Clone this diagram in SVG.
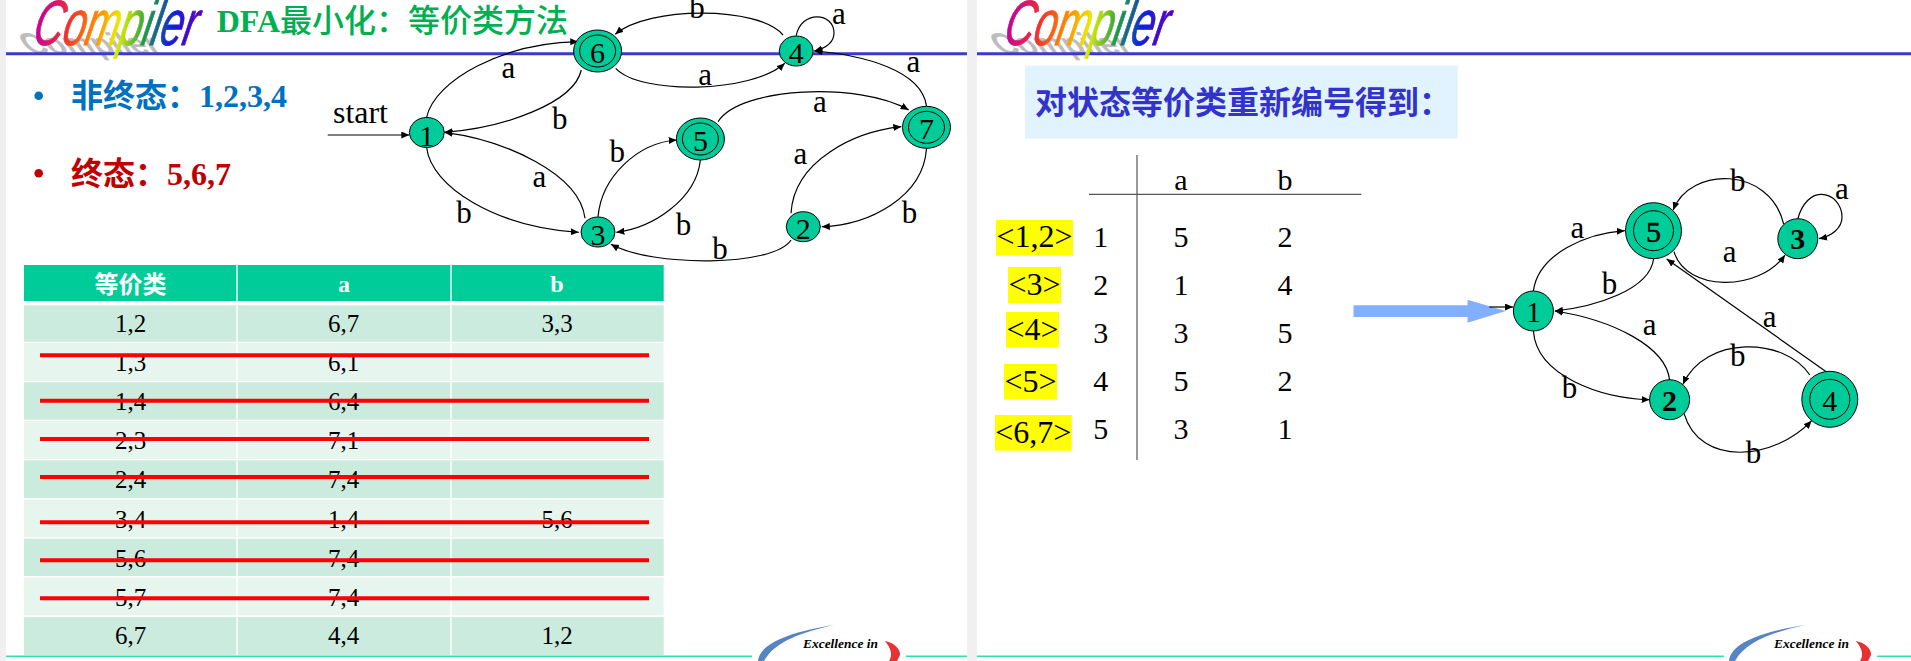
<svg xmlns="http://www.w3.org/2000/svg" width="1911" height="661" viewBox="0 0 1911 661">
<style>
text{font-family:"Liberation Serif","Noto Sans CJK SC",serif;fill:#000}
.lb{font-size:31px;text-anchor:middle}
.dg{font-size:30px;text-anchor:middle}
.nd{fill:#00CC99;stroke:#000;stroke-width:1}
.in{fill:none;stroke:#000;stroke-width:1}
.e{fill:none;stroke:#000;stroke-width:1.2;marker-end:url(#ah)}
.cell{font-size:25px;text-anchor:middle}
.hd{font-size:24px;text-anchor:middle;font-weight:bold;fill:#fff}
.dk{fill:#CCEBDF}.lt{fill:#E7F5EF}.hc{fill:#00CC99}
.st{stroke:#FF0000;stroke-width:4}
.rule{stroke:#3A3ACC;stroke-width:3}
.foot{stroke:#33DDB0;stroke-width:1.5}
.yl{fill:#FFFF00}
.lab{font-size:32px;text-anchor:middle}
.num{font-size:30px;text-anchor:middle}
.ln{stroke:#555;stroke-width:1.2}
.logo{font-family:"Liberation Sans",sans-serif;font-style:italic;font-size:64px;fill:url(#rb)}
.shadow{font-family:"Liberation Sans",sans-serif;font-style:italic;font-weight:bold;font-size:60px;fill:#BDBDBD}
.exc{font-size:13px;font-style:italic;font-weight:bold}
</style>
<defs>
<marker id="ah" markerUnits="userSpaceOnUse" markerWidth="9" markerHeight="8" refX="8" refY="3.5" orient="auto"><path d="M0 0L8 3.5L0 7Z" fill="#000"/></marker>
<linearGradient id="rb" gradientUnits="userSpaceOnUse" x1="0" y1="0" x2="163" y2="0">
<stop offset="0" stop-color="#C000A0"/><stop offset=".2" stop-color="#F03030"/><stop offset=".38" stop-color="#FF9000"/><stop offset=".52" stop-color="#E8F000"/><stop offset=".68" stop-color="#20A040"/><stop offset=".84" stop-color="#1020E0"/><stop offset="1" stop-color="#6000C0"/>
</linearGradient>
</defs>
<rect width="1911" height="661" fill="#fff"/>
<rect x="0" y="0" width="6" height="661" fill="#F0F0F0"/>
<rect x="967" y="0" width="10" height="661" fill="#F0F0F0"/>

<g id="chrome">
<text class="shadow" transform="translate(31,54) skewX(42) scale(1,.5)" textLength="135" lengthAdjust="spacingAndGlyphs">Compiler</text>
<text class="shadow" transform="translate(1002,54) skewX(42) scale(1,.5)" textLength="135" lengthAdjust="spacingAndGlyphs">Compiler</text>
<line class="rule" x1="6" y1="53.7" x2="967" y2="53.7"/>
<line class="rule" x1="977" y1="53.7" x2="1911" y2="53.7"/>
<text class="logo" transform="translate(31,45) skewX(-12)" textLength="163" lengthAdjust="spacingAndGlyphs" stroke="url(#rb)" stroke-width=".8">Compiler</text>
<text class="logo" transform="translate(1002,45) skewX(-12)" textLength="163" lengthAdjust="spacingAndGlyphs" stroke="url(#rb)" stroke-width=".8">Compiler</text>
<line class="foot" x1="6" y1="656.3" x2="752" y2="656.3"/>
<line class="foot" x1="906" y1="656.3" x2="967" y2="656.3"/>
<line class="foot" x1="977" y1="656.3" x2="1724" y2="656.3"/>
<line class="foot" x1="1877" y1="656.3" x2="1911" y2="656.3"/>
<path d="M758 661C760 643 790 632 834 625C803 632 775 641 764 661Z" fill="#5585C5"/>
<path d="M1729 661C1731 643 1761 632 1805 625C1774 632 1746 641 1735 661Z" fill="#5585C5"/>
<path d="M884.700 641C893 642 901 649 900 655L897 661L889 661C893 655 891 648 884.700 641Z" fill="#E53333"/>
<path d="M1855.700 641C1864 642 1872 649 1871 655L1868 661L1860 661C1864 655 1862 648 1855.700 641Z" fill="#E53333"/>
<text class="exc" x="803" y="648" textLength="75" lengthAdjust="spacingAndGlyphs">Excellence in</text>
<text class="exc" x="1774" y="648" textLength="75" lengthAdjust="spacingAndGlyphs">Excellence in</text>
</g>

<text x="216.700" y="32.300" font-size="32" font-weight="500" style="fill:#00B050"><tspan font-weight="bold">DFA</tspan>最小化&#xFF1A;等价类方法</text>
<circle cx="38.700" cy="95.700" r="4.300" fill="#0070C0"/>
<text x="71" y="107.300" font-size="32" style="fill:#0070C0" font-weight="bold">非终态&#xFF1A;1,2,3,4</text>
<circle cx="38.700" cy="173.300" r="4.300" fill="#C00000"/>
<text x="71" y="185" font-size="32" style="fill:#C00000" font-weight="bold">终态&#xFF1A;5,6,7</text>

<g id="connectors-left">
<path class="e" d="M327.700 135H409.300"/>
<path class="e" d="M426.600 117.300C435 80 503 43 578.300 41.700"/>
<path class="e" d="M581.300 70C574 103 504 128 444.400 132.300"/>
<path class="e" d="M585 218.300C579.500 173 504 140 444.400 132.300"/>
<path class="e" d="M426.600 147.300C431 187 496 227 578.700 232.300"/>
<path class="e" d="M598 216.700C601.600 177 637 143 676.700 140"/>
<path class="e" d="M700.400 160C696 200 652 228 616.400 232.300"/>
<path class="e" d="M718 121.700C740 86.700 859 81.700 908.700 110"/>
<path class="e" d="M791 213.300C794 160 855 131.700 901.300 126.700"/>
<path class="e" d="M926.500 148.300C923.500 196.700 870 225 821.800 226.700"/>
<path class="e" d="M791 240C774 267 652 267 610.900 244.300"/>
<path class="e" d="M615.700 68.300C640.500 95 751.500 93.300 784.800 63.300"/>
<path class="e" d="M783 35C759 6 648 6 615.300 34.300"/>
<path class="e" d="M796.200 35.700C801 10 834 12 834 33C834 42 826 48 814.400 51"/>
<path class="e" d="M926.500 106C921.600 70 862.500 55 814.400 51"/>
</g>
<g id="edge-labels-left">
<text x="333" y="122.700" font-size="32" textLength="55" lengthAdjust="spacingAndGlyphs">start</text>
<text class="lb" x="508.400" y="78">a</text>
<text class="lb" x="559.800" y="129.300">b</text>
<text class="lb" x="539.500" y="187.300">a</text>
<text class="lb" x="464" y="222.700">b</text>
<text class="lb" x="617.200" y="161.700">b</text>
<text class="lb" x="683.400" y="235.300">b</text>
<text class="lb" x="720" y="259.300">b</text>
<text class="lb" x="800.300" y="164.300">a</text>
<text class="lb" x="909.400" y="222.700">b</text>
<text class="lb" x="819.900" y="111.700">a</text>
<text class="lb" x="913.500" y="72.300">a</text>
<text class="lb" x="705.200" y="85">a</text>
<text class="lb" x="697" y="18.300">b</text>
<text class="lb" x="838.800" y="24.300">a</text>
</g>
<g id="L1"><ellipse class="nd" cx="426.800" cy="132.500" rx="17.500" ry="15"/><text class="dg" x="426.800" y="145.500">1</text></g>
<g id="L2"><ellipse class="nd" cx="803.300" cy="226.700" rx="17" ry="15"/><text class="dg" x="803.300" y="239">2</text></g>
<g id="L3"><ellipse class="nd" cx="598" cy="232" rx="17" ry="15"/><text class="dg" x="598" y="244.500">3</text></g>
<g id="L4"><ellipse class="nd" cx="796.200" cy="51" rx="17" ry="15"/><text class="dg" x="796.200" y="63">4</text></g>
<g id="L5"><ellipse class="nd" cx="700.400" cy="139" rx="24" ry="21"/><ellipse class="in" cx="700.400" cy="139" rx="18" ry="16"/><text class="dg" x="700.400" y="151">5</text></g>
<g id="L6"><ellipse class="nd" cx="597.600" cy="51" rx="24" ry="21"/><ellipse class="in" cx="597.600" cy="51" rx="18" ry="16"/><text class="dg" x="597.600" y="63">6</text></g>
<g id="L7"><ellipse class="nd" cx="926.500" cy="127.300" rx="24" ry="21"/><ellipse class="in" cx="926.500" cy="127.300" rx="18" ry="16"/><text class="dg" x="926.500" y="139.300">7</text></g>

<g id="table">
<rect class="hc" x="24" y="265" width="212.300" height="36"/><rect class="hc" x="237.700" y="265" width="212.600" height="36"/><rect class="hc" x="451.700" y="265" width="212" height="36"/>
<rect class="dk" x="24" y="305.300" width="212.300" height="36.400"/><rect class="dk" x="237.700" y="305.300" width="212.600" height="36.400"/><rect class="dk" x="451.700" y="305.300" width="212" height="36.400"/>
<rect class="lt" x="24" y="343" width="212.300" height="38"/><rect class="lt" x="237.700" y="343" width="212.600" height="38"/><rect class="lt" x="451.700" y="343" width="212" height="38"/>
<rect class="dk" x="24" y="382.300" width="212.300" height="37.400"/><rect class="dk" x="237.700" y="382.300" width="212.600" height="37.400"/><rect class="dk" x="451.700" y="382.300" width="212" height="37.400"/>
<rect class="lt" x="24" y="421" width="212.300" height="38"/><rect class="lt" x="237.700" y="421" width="212.600" height="38"/><rect class="lt" x="451.700" y="421" width="212" height="38"/>
<rect class="dk" x="24" y="460.300" width="212.300" height="37.700"/><rect class="dk" x="237.700" y="460.300" width="212.600" height="37.700"/><rect class="dk" x="451.700" y="460.300" width="212" height="37.700"/>
<rect class="lt" x="24" y="499.700" width="212.300" height="37.600"/><rect class="lt" x="237.700" y="499.700" width="212.600" height="37.600"/><rect class="lt" x="451.700" y="499.700" width="212" height="37.600"/>
<rect class="dk" x="24" y="538.700" width="212.300" height="37.300"/><rect class="dk" x="237.700" y="538.700" width="212.600" height="37.300"/><rect class="dk" x="451.700" y="538.700" width="212" height="37.300"/>
<rect class="lt" x="24" y="577.700" width="212.300" height="37.600"/><rect class="lt" x="237.700" y="577.700" width="212.600" height="37.600"/><rect class="lt" x="451.700" y="577.700" width="212" height="37.600"/>
<rect class="dk" x="24" y="617" width="212.300" height="38"/><rect class="dk" x="237.700" y="617" width="212.600" height="38"/><rect class="dk" x="451.700" y="617" width="212" height="38"/>
<text class="hd" x="130.500" y="293" style="fill:#fff">等价类</text><text class="hd" x="344" y="292" style="fill:#fff">a</text><text class="hd" x="557" y="292" style="fill:#fff">b</text>
<text class="cell" x="130.500" y="331.700">1,2</text><text class="cell" x="343.500" y="331.700">6,7</text><text class="cell" x="557" y="331.700">3,3</text>
<text class="cell" x="130.500" y="371">1,3</text><text class="cell" x="343.500" y="371">6,1</text>
<text class="cell" x="130.500" y="410">1,4</text><text class="cell" x="343.500" y="410">6,4</text>
<text class="cell" x="130.500" y="449.300">2,3</text><text class="cell" x="343.500" y="449.300">7,1</text>
<text class="cell" x="130.500" y="488.300">2,4</text><text class="cell" x="343.500" y="488.300">7,4</text>
<text class="cell" x="130.500" y="527.700">3,4</text><text class="cell" x="343.500" y="527.700">1,4</text><text class="cell" x="557" y="527.700">5,6</text>
<text class="cell" x="130.500" y="566.700">5,6</text><text class="cell" x="343.500" y="566.700">7,4</text>
<text class="cell" x="130.500" y="605.700">5,7</text><text class="cell" x="343.500" y="605.700">7,4</text>
<text class="cell" x="130.500" y="644.300">6,7</text><text class="cell" x="343.500" y="644.300">4,4</text><text class="cell" x="557" y="644.300">1,2</text>
<line class="st" x1="40" y1="355.300" x2="649" y2="355.300"/>
<line class="st" x1="40" y1="400.700" x2="649" y2="400.700"/>
<line class="st" x1="40" y1="439" x2="649" y2="439"/>
<line class="st" x1="40" y1="477" x2="649" y2="477"/>
<line class="st" x1="40" y1="522.300" x2="649" y2="522.300"/>
<line class="st" x1="40" y1="560.300" x2="649" y2="560.300"/>
<line class="st" x1="40" y1="598.300" x2="649" y2="598.300"/>
</g>

<rect x="1025" y="65.700" width="432.700" height="73" fill="#E1F3FE"/>
<text x="1035" y="114" font-size="32" font-weight="bold" style="fill:#3333CC;font-family:'Noto Sans CJK SC',sans-serif">对状态等价类重新编号得到&#xFF1A;</text>

<g id="mapping">
<line class="ln" x1="1137" y1="155" x2="1137" y2="460"/>
<line class="ln" x1="1089" y1="194.300" x2="1361.300" y2="194.300"/>
<rect class="yl" x="996" y="220" width="77" height="35.700"/>
<rect class="yl" x="1008" y="267" width="53" height="36"/>
<rect class="yl" x="1006" y="312" width="53" height="35.700"/>
<rect class="yl" x="1004" y="364" width="53" height="35.700"/>
<rect class="yl" x="995" y="415" width="76.700" height="35.700"/>
<text class="lab" x="1034.500" y="247.300">&lt;1,2&gt;</text>
<text class="lab" x="1034.500" y="295">&lt;3&gt;</text>
<text class="lab" x="1032.500" y="340">&lt;4&gt;</text>
<text class="lab" x="1030.500" y="391.700">&lt;5&gt;</text>
<text class="lab" x="1033.300" y="442.700">&lt;6,7&gt;</text>
<text class="num" x="1181" y="190">a</text><text class="num" x="1285" y="190">b</text>
<text class="num" x="1100.700" y="246.700">1</text><text class="num" x="1181" y="246.700">5</text><text class="num" x="1285" y="246.700">2</text>
<text class="num" x="1100.700" y="295">2</text><text class="num" x="1181" y="295">1</text><text class="num" x="1285" y="295">4</text>
<text class="num" x="1100.700" y="342.700">3</text><text class="num" x="1181" y="342.700">3</text><text class="num" x="1285" y="342.700">5</text>
<text class="num" x="1100.700" y="390.700">4</text><text class="num" x="1181" y="390.700">5</text><text class="num" x="1285" y="390.700">2</text>
<text class="num" x="1100.700" y="439.300">5</text><text class="num" x="1181" y="439.300">3</text><text class="num" x="1285" y="439.300">1</text>
</g>

<path d="M1353.500 305.300H1467.500V299.700L1505.700 311L1467.500 322.700V317H1353.500Z" fill="#82AFFF"/>

<g id="connectors-right">
<path class="e" d="M1489.300 307H1513"/>
<path class="e" d="M1533.400 291C1538.500 253 1587.700 233.300 1624.800 230.700"/>
<path class="e" d="M1653.600 259C1649.600 290 1595 306.700 1554.900 311"/>
<path class="e" d="M1669.600 380C1666 346.700 1613 320 1554.900 311"/>
<path class="e" d="M1533.400 331C1536.700 376.700 1602.200 398.300 1649.600 399.700"/>
<path class="e" d="M1674 251.700C1686 292 1758.800 292 1785 255"/>
<path class="e" d="M1783.600 224C1770 166 1690 166 1673.200 210"/>
<path class="e" d="M1797.800 219C1802 203 1812 194 1821 194.300C1833 194 1842 205 1842 217C1842 228 1832 236 1819 238.700"/>
<path class="e" d="M1826.200 371.700L1666.700 259"/>
<path class="e" d="M1809.800 375C1785 337 1705 335 1683 384.300"/>
<path class="e" d="M1684 413.300C1700 468 1775 460 1811.600 420.700"/>
</g>
<g id="edge-labels-right">
<text class="lb" x="1577.500" y="238.300">a</text>
<text class="lb" x="1609.500" y="294">b</text>
<text class="lb" x="1649.600" y="335">a</text>
<text class="lb" x="1569.400" y="397.700">b</text>
<text class="lb" x="1729.700" y="262.300">a</text>
<text class="lb" x="1737.700" y="190.700">b</text>
<text class="lb" x="1841.900" y="199">a</text>
<text class="lb" x="1769.700" y="326.700">a</text>
<text class="lb" x="1737.700" y="366">b</text>
<text class="lb" x="1753.400" y="463.300">b</text>
</g>
<g id="R1"><ellipse class="nd" cx="1533.400" cy="311" rx="20" ry="20"/><text class="dg" x="1533.400" y="322">1</text></g>
<g id="R2"><ellipse class="nd" cx="1669.600" cy="399.700" rx="20" ry="20"/><text class="dg" x="1669.600" y="410.700" font-weight="bold">2</text></g>
<g id="R3"><ellipse class="nd" cx="1797.800" cy="238.700" rx="20" ry="20"/><text class="dg" x="1797.800" y="249" font-weight="bold">3</text></g>
<g id="R4"><ellipse class="nd" cx="1829.800" cy="399.300" rx="28" ry="28"/><ellipse class="in" cx="1829.800" cy="399.300" rx="20" ry="20"/><text class="dg" x="1829.800" y="410.700">4</text></g>
<g id="R5"><ellipse class="nd" cx="1653.500" cy="230.700" rx="28" ry="28"/><ellipse class="in" cx="1653.500" cy="230.700" rx="20" ry="20"/><text class="dg" x="1653.500" y="241.700" stroke="#000" stroke-width=".5">5</text></g>
</svg>
